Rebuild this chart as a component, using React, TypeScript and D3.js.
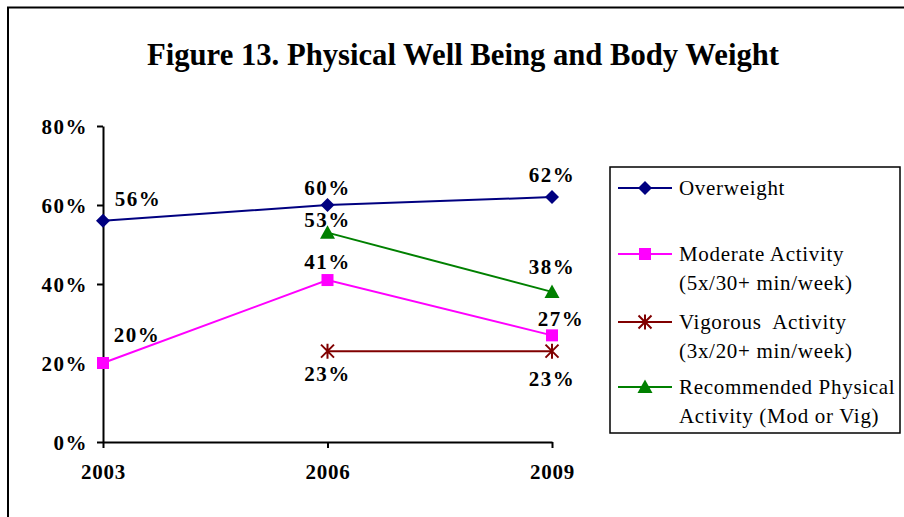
import React, { useRef, useEffect } from 'react';
import * as d3 from 'd3';

// chart data
const years = ['2003', '2006', '2009'];
const overweight = [56, 60, 62];
const moderate = [20, 41, 27];
const vigorous = [null, 23, 23];
const recommended = [null, 53, 38];
const yTicks = [0, 20, 40, 60, 80];

const title = 'Figure 13. Physical Well Being and Body Weight';

const series = [
  { name: ['Overweight'], values: overweight, color: '#000080', marker: 'diamond',
    labelOffsets: [[35, -22], [0, -17], [0, -22]] },
  { name: ['Moderate Activity', '(5x/30+ min/week)'], values: moderate, color: '#FF00FF', marker: 'square',
    labelOffsets: [[34, -28], [0, -18], [9, -17]] },
  { name: ['Vigorous  Activity', '(3x/20+ min/week)'], values: vigorous, color: '#800000', marker: 'star',
    labelOffsets: [[0, 0], [0, 22], [0, 27]] },
  { name: ['Recommended Physical', 'Activity (Mod or Vig)'], values: recommended, color: '#008000', marker: 'triangle',
    labelOffsets: [[0, 0], [0, -13], [0, -25]] },
];

const FONT = '"Liberation Serif", "Times New Roman", serif';

const drawMarker = (g: any, type: string, color: string) => {
  if (type === 'diamond') {
    g.append('path').attr('d', 'M0,-7L7,0L0,7L-7,0Z').attr('fill', color);
  } else if (type === 'square') {
    g.append('rect').attr('x', -6).attr('y', -6).attr('width', 12).attr('height', 12).attr('fill', color);
  } else if (type === 'triangle') {
    g.append('path').attr('d', 'M0,-7.5L7.5,6L-7.5,6Z').attr('fill', color);
  } else if (type === 'star') {
    const s = 6.5;
    g.append('path')
      .attr('d', `M${-s},${-s}L${s},${s}M${-s},${s}L${s},${-s}M0,${-s - 1}L0,${s + 1}`)
      .attr('stroke', color).attr('stroke-width', 2).attr('fill', 'none');
  }
};

const App = () => {
  const ref = useRef<SVGSVGElement>(null);

  useEffect(() => {
    const svg = d3.select(ref.current);
    svg.selectAll('*').remove();

    const x = d3.scalePoint().domain(years).range([103, 552]);
    const y = d3.scaleLinear().domain([0, 80]).range([442, 126]);

    // outer frame
    svg.append('path').attr('d', 'M8,517L8,7.5L904,7.5').attr('fill', 'none').attr('stroke', '#000').attr('stroke-width', 2);

    // title
    svg.append('text')
      .attr('x', 463).attr('y', 65)
      .attr('text-anchor', 'middle')
      .attr('font-family', FONT).attr('font-weight', 'bold').attr('font-size', 31)
      .attr('textLength', 632).attr('lengthAdjust', 'spacingAndGlyphs')
      .text(title);

    // y axis
    const yAxis = svg.append('g')
      .attr('transform', 'translate(103,0)')
      .call(d3.axisLeft(y).tickValues(yTicks).tickFormat(d => `${d}%`).tickSize(6).tickSizeOuter(0));
    yAxis.select('.domain').attr('stroke', '#000').attr('stroke-width', 2);
    yAxis.selectAll('.tick line').attr('stroke', '#000').attr('stroke-width', 2);
    yAxis.selectAll('.tick text')
      .attr('x', -15).attr('dy', '0.35em')
      .attr('font-family', FONT).attr('font-weight', 'bold').attr('font-size', 21).attr('fill', '#000')
      .attr('letter-spacing', 1.5);

    // x axis
    const xAxis = svg.append('g')
      .attr('transform', 'translate(0,442)')
      .call(d3.axisBottom(x).tickSize(6).tickSizeOuter(0));
    xAxis.select('.domain').attr('stroke', '#000').attr('stroke-width', 2);
    xAxis.selectAll('.tick line').attr('stroke', '#000').attr('stroke-width', 2);
    xAxis.selectAll('.tick text')
      .attr('y', 22).attr('dy', '0.71em')
      .attr('font-family', FONT).attr('font-weight', 'bold').attr('font-size', 21).attr('fill', '#000')
      .attr('letter-spacing', 0.8);

    // series
    series.forEach(s => {
      const pts = years.map((yr, i) => ({ yr, v: s.values[i], off: s.labelOffsets[i] }))
        .filter(p => p.v !== null);
      const line = d3.line<any>().x(p => x(p.yr) as number).y(p => y(p.v));
      svg.append('path').attr('d', line(pts)).attr('fill', 'none')
        .attr('stroke', s.color).attr('stroke-width', 2);
      pts.forEach(p => {
        const g = svg.append('g').attr('transform', `translate(${x(p.yr)},${y(p.v)})`);
        drawMarker(g, s.marker, s.color);
        svg.append('text')
          .attr('x', (x(p.yr) as number) + p.off[0])
          .attr('y', y(p.v) + p.off[1])
          .attr('dy', '0.35em')
          .attr('text-anchor', 'middle')
          .attr('font-family', FONT).attr('font-weight', 'bold').attr('font-size', 21)
          .attr('letter-spacing', 1.5)
          .text(`${p.v}%`);
      });
    });

    // legend
    const legend = svg.append('g');
    legend.append('rect').attr('x', 610).attr('y', 167).attr('width', 290).attr('height', 266)
      .attr('fill', 'none').attr('stroke', '#000').attr('stroke-width', 1.5);
    const legendY = [188, 254, 322, 387];
    series.forEach((s, i) => {
      const ly = legendY[i];
      legend.append('line').attr('x1', 618).attr('x2', 672).attr('y1', ly).attr('y2', ly)
        .attr('stroke', s.color).attr('stroke-width', 2);
      drawMarker(legend.append('g').attr('transform', `translate(645,${ly})`), s.marker, s.color);
      s.name.forEach((t, j) => {
        legend.append('text')
          .attr('x', 679).attr('y', ly + j * 29).attr('dy', '0.35em')
          .attr('font-family', FONT).attr('font-size', 21)
          .attr('letter-spacing', 0.7)
          .style('white-space', 'pre')
          .text(t);
      });
    });
  }, []);

  return (
    <svg ref={ref} width={904} height={517}
      style={{ position: 'absolute', left: 0, top: 0, background: '#fff' }} />
  );
};

export default App;
